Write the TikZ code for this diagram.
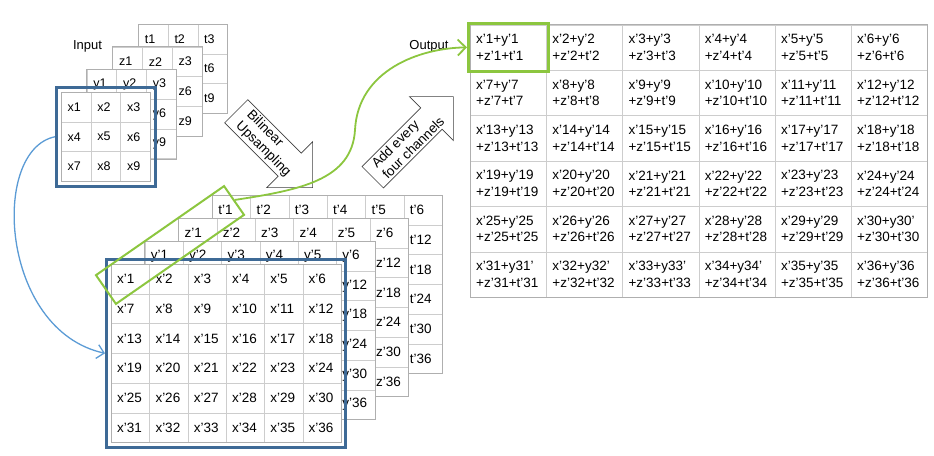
\documentclass[tikz,border=0pt]{standalone}
\usepackage{fontspec}
\setmainfont{Liberation Sans}
\usetikzlibrary{arrows.meta,shapes.arrows,fit}
\definecolor{gridgray}{RGB}{205,205,205}
\definecolor{edgegray}{RGB}{175,175,175}
\definecolor{boxblue}{RGB}{62,106,150}
\definecolor{curveblue}{RGB}{91,155,213}
\definecolor{selgreen}{RGB}{140,198,63}
\tikzset{
  smallcell/.style={draw=gridgray,fill=white,anchor=north west,minimum height=29.7pt,text width=16.7pt,inner xsep=6.5pt,inner ysep=0pt,align=left,font=\fontsize{12.5}{14}\selectfont},
  bigcell/.style={smallcell,text width=26.3pt,inner xsep=6pt,font=\fontsize{13.5}{15}\selectfont},
  outcell/.style={draw=gridgray,fill=white,anchor=north west,minimum height=45.4pt,text width=64.2pt,inner xsep=6pt,inner ysep=0pt,align=left,font=\fontsize{13.5}{16.5}\selectfont},
  layeredge/.style={draw=edgegray,line width=0.6pt},
  bluebox/.style={draw=boxblue,line width=3pt,inner sep=4.5pt},
  greenbox/.style={draw=selgreen,line width=3pt,inner sep=1.5pt},
  greenrect/.style={draw=selgreen,line width=2pt,minimum width=156pt,minimum height=35pt,inner sep=0pt},
  blueline/.style={draw=curveblue,line width=1.3pt,-{Straight Barb[length=7pt,width=14pt]}},
  greenline/.style={draw=selgreen,line width=1.8pt,-{Straight Barb[length=8pt,width=16pt]}},
  blockarrow/.style={single arrow,draw=black!75,fill=white,line width=0.7pt,single arrow head extend=16pt,single arrow tip angle=90,minimum width=63pt,align=left,inner xsep=3pt,inner ysep=2pt,font=\fontsize{13.5}{15.5}\selectfont},
  plainlabel/.style={font=\fontsize{13}{15}\selectfont,inner sep=0pt}
}
\begin{document}
\begin{tikzpicture}[x=1pt,y=-1pt]
\useasboundingbox (0,0) rectangle (934,455);
\foreach \L/\k in {t/3,z/2,y/1,x/0}{
  \foreach \r in {1,2,3}{
    \foreach \c in {1,2,3}{
      \pgfmathtruncatemacro{\n}{(\r-1)*3+\c}
      \node[smallcell] (\L-\r-\c) at ({61+25.7*\k+29.7*(\c-1)},{92-22.7*\k+29.7*(\r-1)}) {\L\n};
    }
  }
  \draw[layeredge] (\L-1-1.north west) rectangle (\L-3-3.south east);
}
\foreach \L/\k in {t/3,z/2,y/1,x/0}{
  \foreach \r in {1,...,6}{
    \foreach \c in {1,...,6}{
      \pgfmathtruncatemacro{\n}{(\r-1)*6+\c}
      \node[bigcell] (big\L-\r-\c) at ({111+33.7*\k+38.3*(\c-1)},{264-23*\k+29.7*(\r-1)}) {\L’\n};
    }
  }
  \draw[layeredge] (big\L-1-1.north west) rectangle (big\L-6-6.south east);
}
\foreach \r in {1,...,6}{
  \foreach \c in {1,...,6}{
    \pgfmathtruncatemacro{\n}{(\r-1)*6+\c}
    \ifnum\n>29 \ifnum\n<35 \def\yy{y\n’}\else\def\yy{y’\n}\fi\else\def\yy{y’\n}\fi
    \node[outcell] (o-\r-\c) at ({470+76.2*(\c-1)},{24.5+45.4*(\r-1)}) {x’\n+\yy\\+z’\n+t’\n};
  }
}
\draw[layeredge] (o-1-1.north west) rectangle (o-6-6.south east);

\node[bluebox,fit=(x-1-1)(x-3-3)] (inbox) {};
\node[bluebox,fit=(bigx-1-1)(bigx-6-6)] (bigbox) {};
\node[greenbox,fit=(o-1-1)] (selout) {};
\node[plainlabel] (inlabel) at (87.5,46) {Input};
\node[plainlabel] (outlabel) at (429,46) {Output};
\node[blockarrow,rotate=-45,anchor=tail,minimum height=108pt] (upsample) at (236,111) {Bilinear\\Upsampling};
\node[blockarrow,rotate=45,anchor=tail,minimum height=114pt,minimum width=61pt] (addsum) at (372.5,177.5) {Add every\\four channels};
\node[greenrect,rotate=34.8] (sel) at (170,245) {};
\draw[blueline] (inbox.west) .. controls (-10,150) and (0,330) .. (bigbox.west);
\draw[greenline] (sel.east) .. controls (300,190) and (352,180) .. (355,130) .. controls (358,70) and (420,48) .. (selout.west);
\end{tikzpicture}
\end{document}
